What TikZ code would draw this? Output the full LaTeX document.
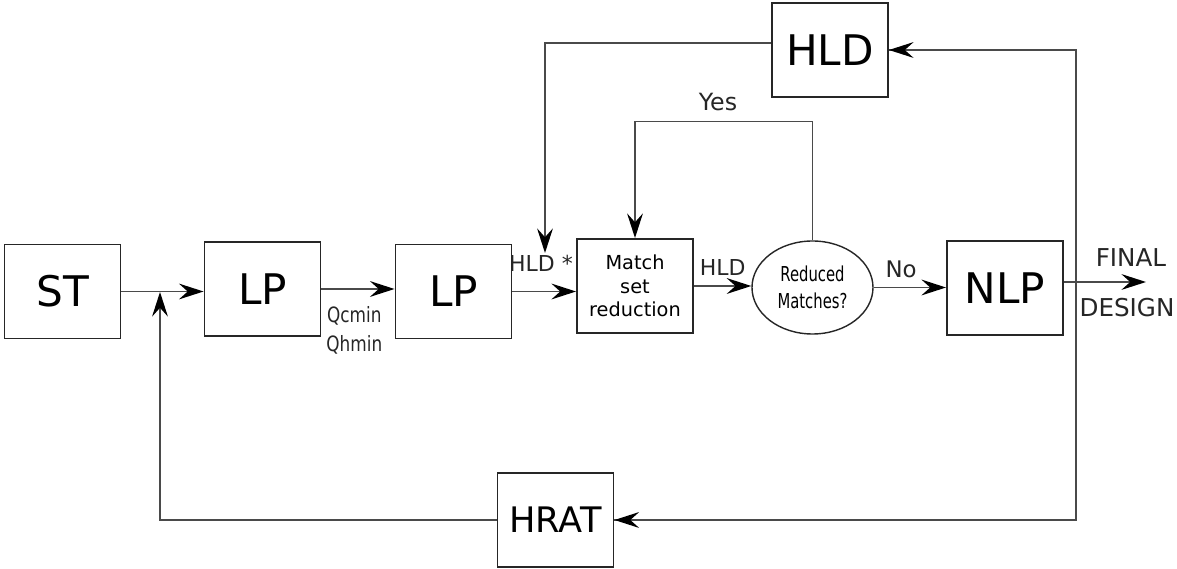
\documentclass[tikz,border=0pt]{standalone}
\usepackage{fontspec}
\setmainfont{DejaVu Sans}
\newfontfamily\narrowfont[FakeStretch=0.8]{DejaVu Sans}
\newfontfamily\thinfont[FakeStretch=0.72]{DejaVu Sans}
\usepackage{tikz}
\usetikzlibrary{arrows.meta, positioning, shapes.geometric, calc}
\definecolor{edgegray}{HTML}{4A4A4A}

\begin{document}
\begin{tikzpicture}[
    block/.style={draw=black!85, line width=1.1pt, minimum width=2.32cm, minimum height=1.88cm, font=\fontsize{24}{28}\selectfont},
    smallblock/.style={block, font=\fontsize{11}{13.5}\selectfont, align=center},
    decision/.style={draw=black!85, line width=0.8pt, ellipse, minimum width=2.42cm, minimum height=1.86cm, align=center, font=\thinfont\fontsize{11.7}{15}\selectfont},
    flow/.style={-{Stealth[length=14pt, width=9pt, inset=5pt, color=black]}, line width=0.85pt, edgegray},
    line/.style={line width=0.85pt, edgegray},
    label/.style={font=\fontsize{13.5}{16}\selectfont, text=black!85}
]
    \useasboundingbox (0,0) rectangle (23.54,-11.38);

    % Main chain
    \node[block] (st)  at (1.25,-5.83) {ST};
    \node[block] (lp1) at (5.25,-5.78) {LP};
    \node[block] (lp2) at (9.07,-5.83) {LP};
    \node[smallblock] (match) at (12.70,-5.72) {Match\\set\\reduction};
    \node[decision] (reduced) at (16.25,-5.75) {Reduced\\Matches?};
    \node[block] (nlp) at (20.10,-5.76) {NLP};

    % Feedback blocks
    \node[block] (hld)  at (16.60,-1.00) {HLD};
    \node[block, font=\fontsize{20}{24}\selectfont] (hrat) at (11.11,-10.40) {HRAT};

    % Helper points
    \coordinate (join)  at (3.20,-5.84);
    \coordinate (hldin) at (10.90,-5.06);
    \coordinate (split) at (21.52,-5.64);
    \coordinate (out)   at (22.92,-5.64);

    % Forward arrows
    \draw[flow] (st.east) -- (st.east -| lp1.west);
    \draw[flow] (lp1.east) -- (lp1.east -| lp2.west)
        node[pos=0.45, below=6pt, font=\narrowfont\fontsize{12}{16.5}\selectfont, align=center, text=black!85] {Qcmin\\Qhmin};
    \draw[flow] (lp2.east) -- (lp2.east -| match.west);
    \node[label, font=\fontsize{12.5}{15}\selectfont] (hldstar) at (10.82,-5.26) {HLD *};
    \draw[flow] (match.east) -- (match.east -| reduced.west)
        node[midway, above=2pt, label, font=\fontsize{12.5}{15}\selectfont] {HLD};
    \draw[flow] (reduced.east) -- (reduced.east -| nlp.west)
        node[pos=0.38, above=2pt, label, font=\fontsize{13}{15}\selectfont] {No};
    \draw[flow] (nlp.east |- split) -- (out);
    \node[label, font=\fontsize{14}{16}\selectfont] (final)  at (22.62,-5.16) {FINAL};
    \node[label, font=\fontsize{14}{16}\selectfont] (design) at (22.54,-6.16) {DESIGN};

    % Yes loop
    \draw[flow] (reduced.north) -- ++(0,2.38) -| (match.north);
    \node[label] (yes) at (14.36,-2.04) {Yes};

    % HLD loop
    \draw[flow] ([yshift=4pt]hld.west) -| (hldin);
    \draw[line] (split) |- (hld.east);
    \draw[flow] (split |- hld.east) -- (hld.east);

    % HRAT loop
    \draw[line] (split) |- (hrat.east);
    \draw[flow] (split |- hrat.east) -- (hrat.east);
    \draw[flow] (hrat.west) -| (join);

\end{tikzpicture}
\end{document}
